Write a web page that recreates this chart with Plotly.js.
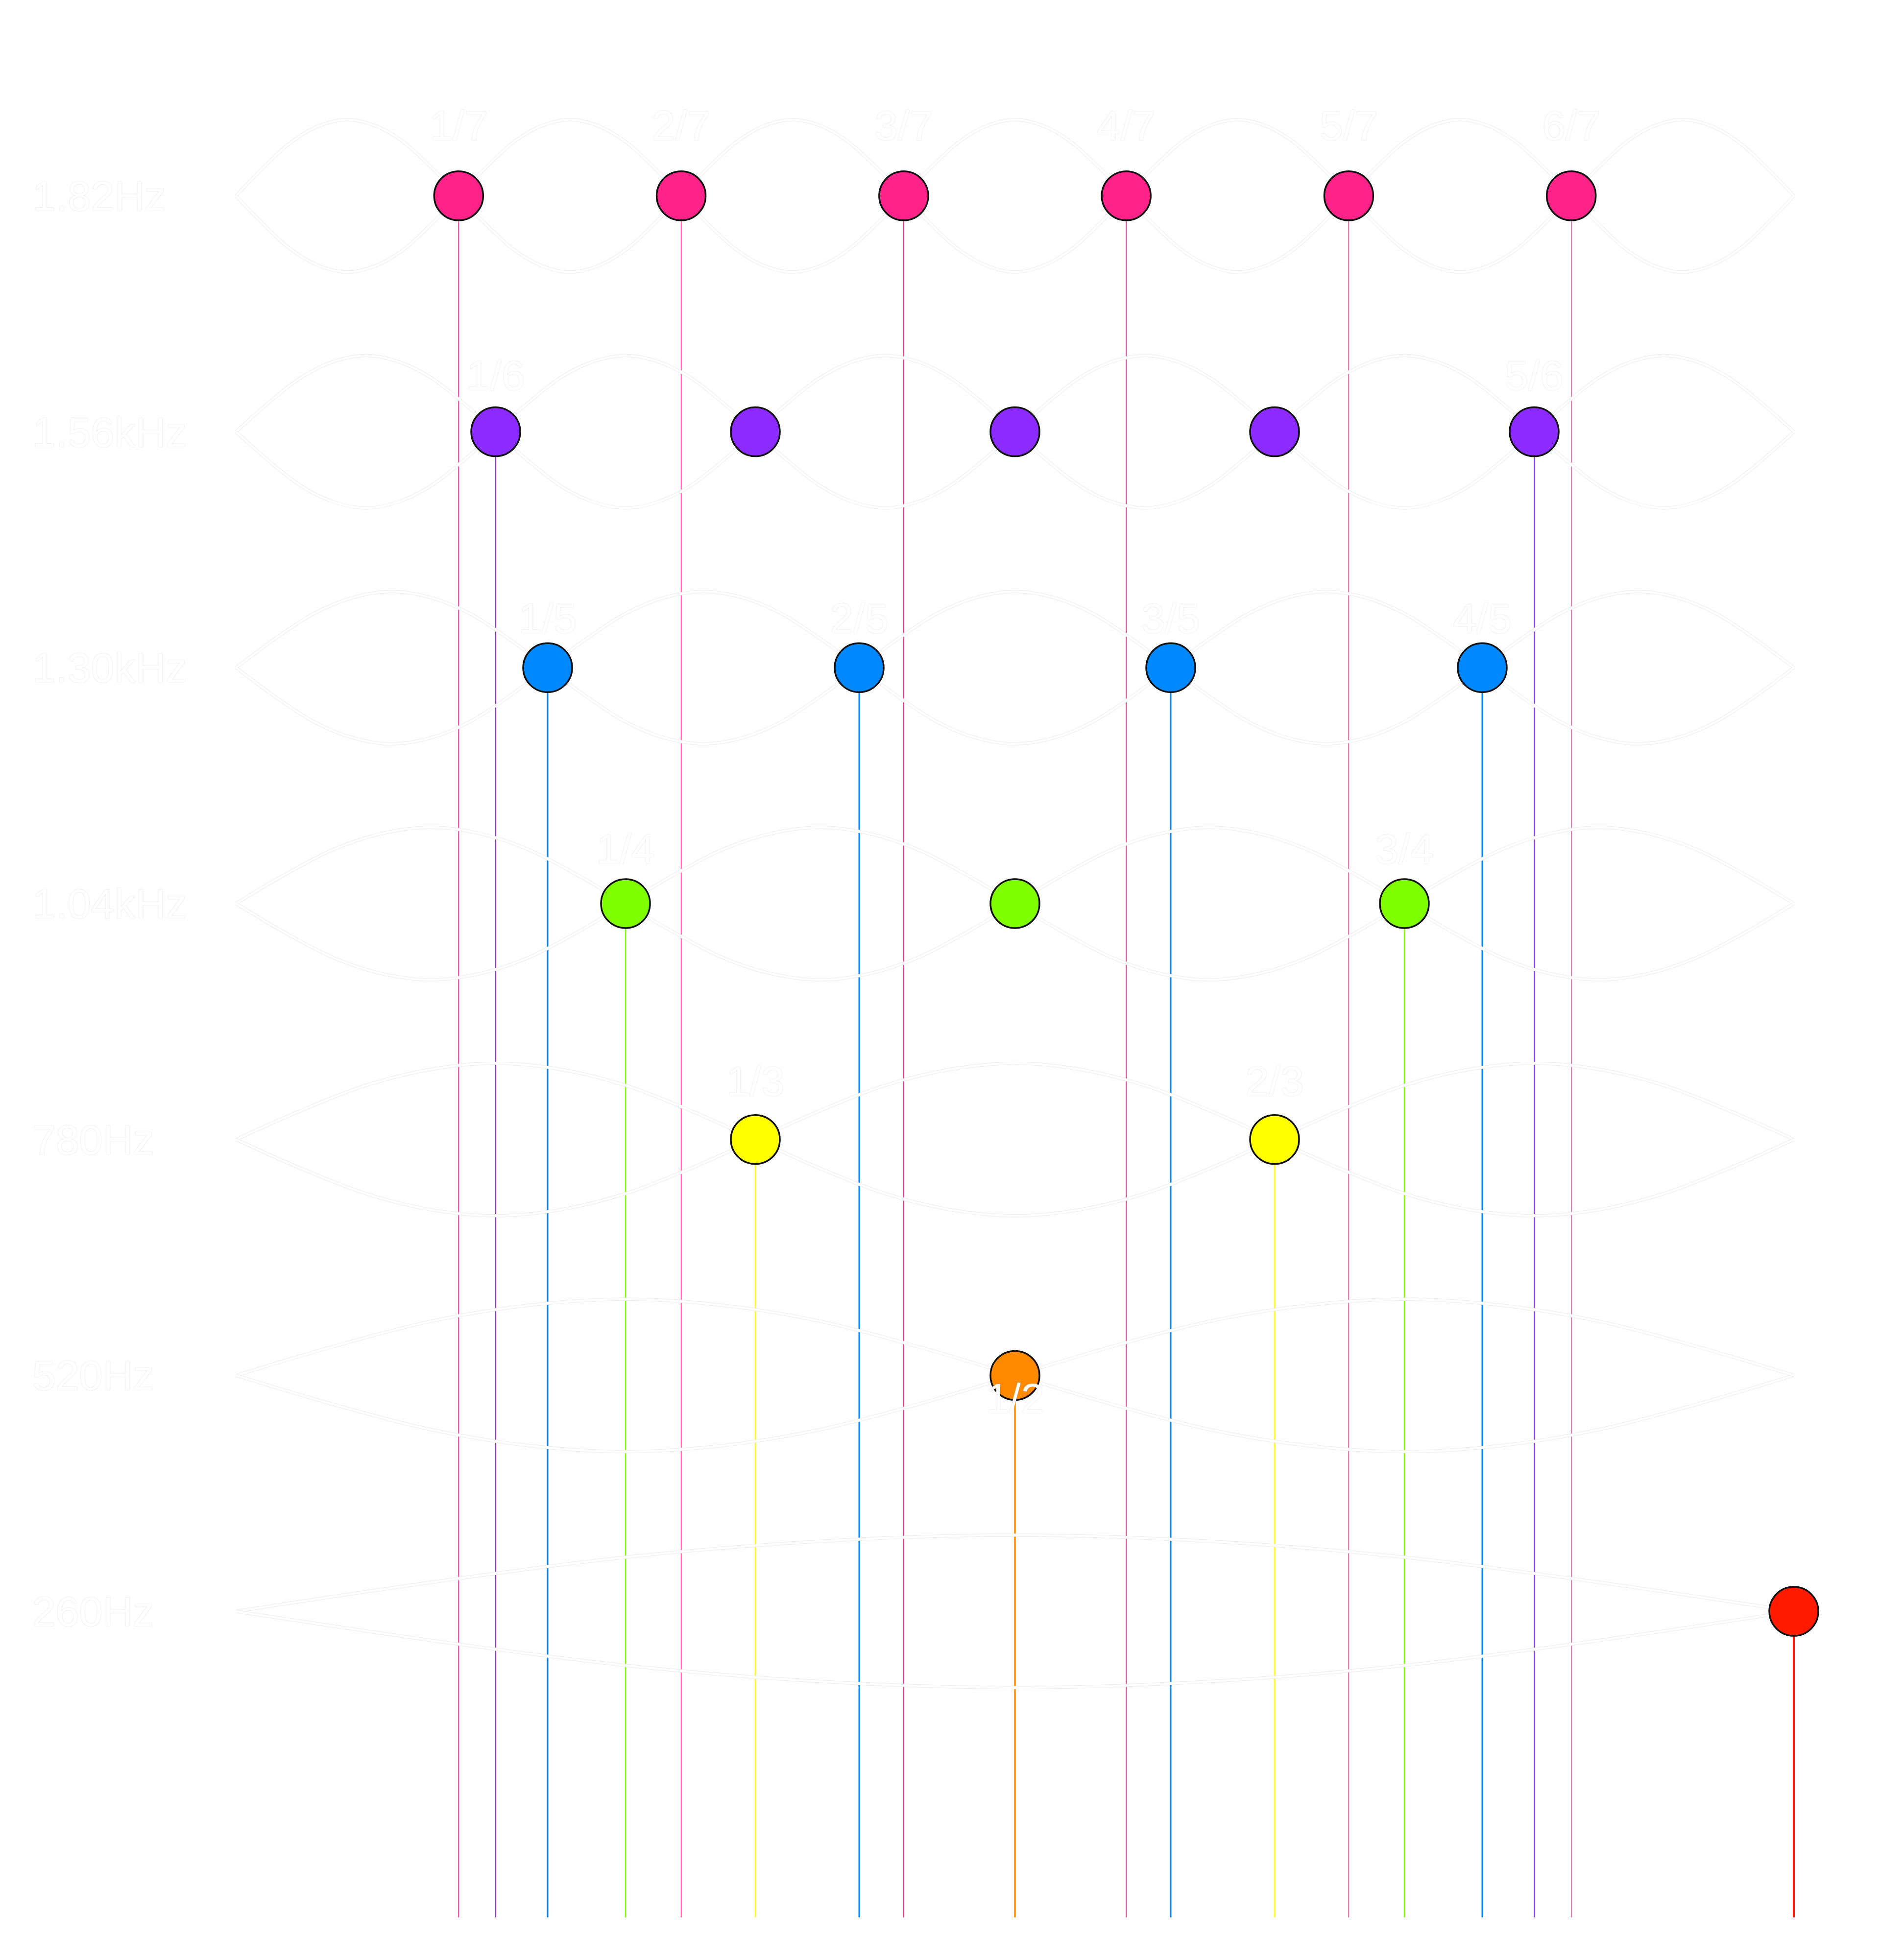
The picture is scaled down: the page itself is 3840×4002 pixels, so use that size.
<!DOCTYPE html>
<html>
<head>
<meta charset="utf-8">
<script src="https://cdn.plot.ly/plotly-3.0.1.min.js"></script>
<style>html,body{margin:0;padding:0;background:#fff;}#chart{width:3840px;height:4002px;}</style>
</head>
<body>
<div id="chart"></div>
<script>
// ---- data ----
const harmonics = [7, 6, 5, 4, 3, 2, 1];
const frequencies = [1820, 1560, 1300, 1040, 780, 520, 260];
const frequencyLabels = ["1.82Hz", "1.56kHz", "1.30kHz", "1.04kHz", "780Hz", "520Hz", "260Hz"];
const nodes7 = ["1/7", "2/7", "3/7", "4/7", "5/7", "6/7"];
const nodes6 = ["1/6", "2/6", "3/6", "4/6", "5/6"];
const nodes5 = ["1/5", "2/5", "3/5", "4/5"];
const nodes4 = ["1/4", "2/4", "3/4"];
const nodes3 = ["1/3", "2/3"];
const nodes2 = ["1/2"];
const nodes1 = ["1/1"];
const rowNodes = [nodes7, nodes6, nodes5, nodes4, nodes3, nodes2, nodes1];
// normalized envelope height across one loop
const envelopeProfile = [0, 0.38, 0.71, 0.92, 1, 0.92, 0.71, 0.38, 0];

// ---- style ----
const colors = ["#ff2288", "#8b2bff", "#0088ff", "#80ff00", "#ffff00", "#ff8a00", "#ff1a00"];
const stemWidths = [1.6, 2, 3, 2.6, 2.6, 3.4, 4];
const labelOffsets = [73, 58, 50, 56, 60, -30, 0];
const envelopeAmp = 84;
const yBase = -77.3;
const pxPerUnit = 1.8527;
const plotH = 3915;
const x0px = 482, xUnitPx = 3180;
const textFont = {family: "Liberation Sans, Arial, sans-serif", size: 86, color: "#ffffff",
                  shadow: "0px 0px 1.5px rgba(0,0,0,0.22)"};

function parts(s) { const p = s.split("/"); return [+p[0], +p[1]]; }
function gcd(a, b) { return b ? gcd(b, a % b) : a; }

const stemTraces = [], envTraces = [], markerTraces = [], labelTraces = [];
harmonics.forEach((n, i) => {
  const yRow = frequencies[i];
  const fr = rowNodes[i].map(parts);
  const xs = fr.map(p => p[0] / p[1]);
  const reduced = fr.map(p => gcd(p[0], p[1]) === 1);
  // stems (only where the fraction is in lowest terms)
  const sx = [], sy = [];
  xs.forEach((x, j) => { if (reduced[j]) { sx.push(x, x, null); sy.push(yRow, yBase, null); } });
  stemTraces.push({x: sx, y: sy, mode: "lines", type: "scatter", hoverinfo: "skip",
    line: {color: colors[i], width: stemWidths[i]}});
  // envelope of the standing wave
  [1, -1].forEach(sgn => {
    const ex = [], ey = [];
    const m = envelopeProfile.length - 1;
    for (let loop = 0; loop < n; loop++) {
      const s = sgn * (loop % 2 === 0 ? 1 : -1);
      for (let k = (loop === 0 ? 0 : 1); k <= m; k++) {
        ex.push((loop + k / m) / n);
        ey.push(yRow + s * envelopeAmp * envelopeProfile[k]);
      }
    }
    envTraces.push({x: ex, y: ey, mode: "lines", type: "scatter", hoverinfo: "skip",
      line: {color: "#ececec", width: 6.5, shape: "spline", smoothing: 1}});
    envTraces.push({x: ex, y: ey, mode: "lines", type: "scatter", hoverinfo: "skip",
      line: {color: "#ffffff", width: 4.5, shape: "spline", smoothing: 1}});
  });
  markerTraces.push({x: xs, y: xs.map(() => yRow), mode: "markers", type: "scatter", hoverinfo: "skip",
    marker: {size: 100, color: colors[i], line: {color: "#111111", width: 3.5}}});
  const lx = [], ly = [], lt = [];
  fr.forEach((p, j) => {
    if (reduced[j] && p[1] > 1) { lx.push(xs[j]); ly.push(yRow + labelOffsets[i]); lt.push(rowNodes[i][j]); }
  });
  labelTraces.push({x: lx, y: ly, mode: "text", type: "scatter",
    text: lt, textposition: "middle center", textfont: textFont, hoverinfo: "skip"});
});

const annotations = frequencyLabels.map((t, i) => ({
  x: (64 - x0px) / xUnitPx, y: frequencies[i], xref: "x", yref: "y", text: t, showarrow: false,
  xanchor: "left", yanchor: "middle", font: textFont
}));

const layout = {
  width: 3840, height: 4002,
  margin: {l: 0, r: 0, t: 0, b: 4002 - plotH, pad: 0},
  paper_bgcolor: "#ffffff", plot_bgcolor: "#ffffff",
  showlegend: false,
  xaxis: {range: [-x0px / xUnitPx, (3840 - x0px) / xUnitPx], visible: false, fixedrange: true},
  yaxis: {range: [yBase, yBase + plotH / pxPerUnit], visible: false, fixedrange: true},
  annotations: annotations
};

Plotly.newPlot("chart", [...stemTraces, ...envTraces, ...markerTraces, ...labelTraces], layout,
  {staticPlot: true, displayModeBar: false});
</script>
</body>
</html>
